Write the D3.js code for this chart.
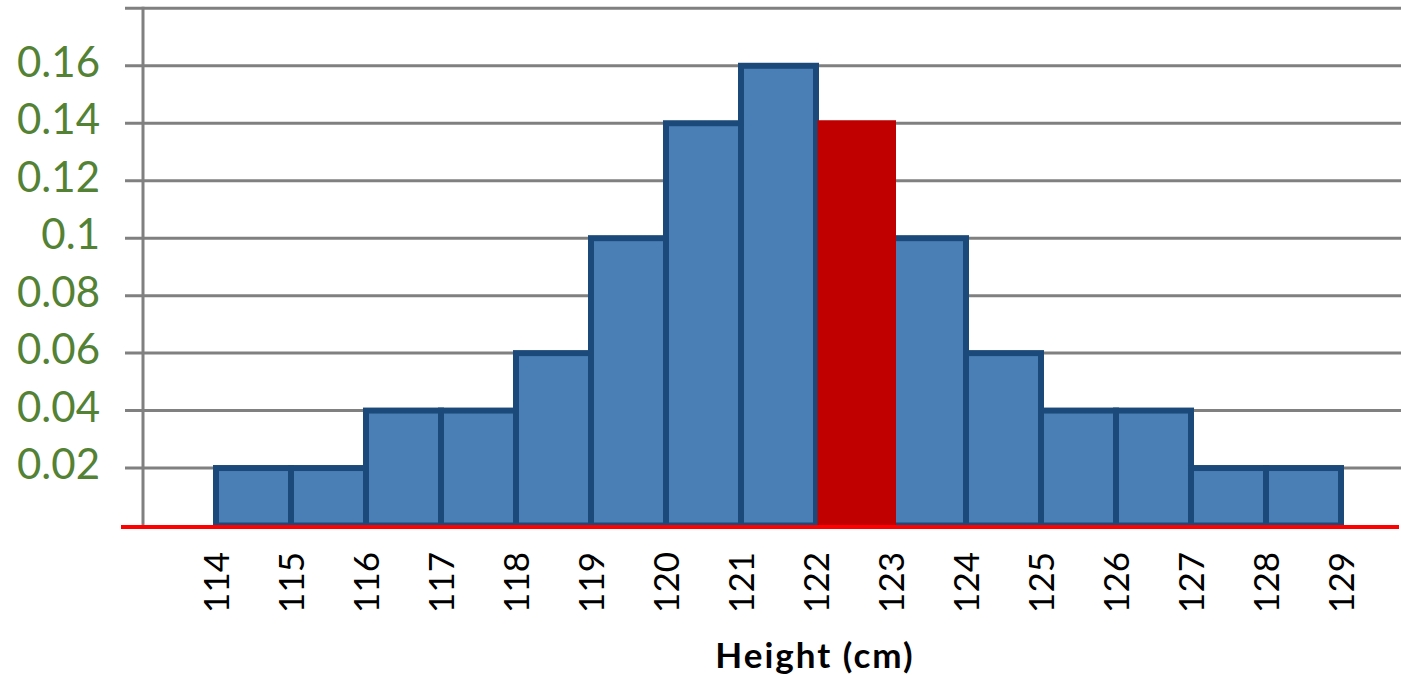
<!DOCTYPE html>
<html>
<head>
<meta charset="utf-8">
<script src="https://cdn.jsdelivr.net/npm/d3@7"></script>
<style>
  html, body { margin: 0; padding: 0; background: #fff; }
  svg { display: block; }
</style>
</head>
<body>
<svg id="chart" width="1401" height="675"></svg>
<script>
// Height distribution: relative frequency per 1 cm bin
const binStarts = [114, 115, 116, 117, 118, 119, 120, 121, 122, 123, 124, 125, 126, 127, 128];
const frequencies = [0.02, 0.02, 0.04, 0.04, 0.06, 0.10, 0.14, 0.16, 0.14, 0.10, 0.06, 0.04, 0.04, 0.02, 0.02];
const edgeLabels = ["114", "115", "116", "117", "118", "119", "120", "121", "122", "123", "124", "125", "126", "127", "128", "129"];
const gridValues = [0.02, 0.04, 0.06, 0.08, 0.10, 0.12, 0.14, 0.16, 0.18];
const yTickLabels = ["0.02", "0.04", "0.06", "0.08", "0.1", "0.12", "0.14", "0.16"];
const highlightBin = 122;
const axisTitle = "Height (cm)";

const svg = d3.select("#chart");

const x = d3.scaleLinear().domain([114, 129]).range([216, 1341]);
const y = d3.scaleLinear().domain([0, 0.18]).range([525.5, 8.3]);

const plotLeft = 143, gridLeft = 125, gridRight = 1401;

// horizontal gridlines (with small ticks left of the axis)
svg.append("g")
  .selectAll("line")
  .data(gridValues)
  .join("line")
  .attr("x1", gridLeft).attr("x2", gridRight)
  .attr("y1", d => y(d)).attr("y2", d => y(d))
  .attr("stroke", "#808080").attr("stroke-width", 3);

// vertical value axis
svg.append("line")
  .attr("x1", plotLeft).attr("x2", plotLeft)
  .attr("y1", y(0.18) - 1.5).attr("y2", y(0))
  .attr("stroke", "#808080").attr("stroke-width", 3);

// y tick labels
svg.append("g")
  .selectAll("text")
  .data(yTickLabels)
  .join("text")
  .attr("x", 100)
  .attr("y", d => y(+d) + 11)
  .attr("text-anchor", "end")
  .attr("font-family", "Lato, 'Open Sans', sans-serif")
  .attr("font-size", 42)
  .attr("fill", "#548235")
  .text(d => d);

// histogram bars
const barW = 6;
const bins = binStarts.map((s, i) => ({ start: s, value: frequencies[i] }));

svg.append("g")
  .selectAll("rect")
  .data(bins.filter(d => d.start !== highlightBin))
  .join("rect")
  .attr("x", d => x(d.start))
  .attr("y", d => y(d.value))
  .attr("width", d => x(d.start + 1) - x(d.start))
  .attr("height", d => y(0) - y(d.value))
  .attr("fill", "#4a7fb6")
  .attr("stroke", "#1b4a7a")
  .attr("stroke-width", barW);

// highlighted bin drawn on top
svg.append("g")
  .selectAll("rect")
  .data(bins.filter(d => d.start === highlightBin))
  .join("rect")
  .attr("x", d => x(d.start) + 1.5)
  .attr("y", d => y(d.value) - barW / 2)
  .attr("width", d => x(d.start + 1) - x(d.start) + 3.5)
  .attr("height", d => y(0) - y(d.value) + barW / 2)
  .attr("fill", "#c00000");

// red baseline
svg.append("line")
  .attr("x1", 121).attr("x2", 1399)
  .attr("y1", y(0) + 1.5).attr("y2", y(0) + 1.5)
  .attr("stroke", "#ff0000").attr("stroke-width", 4);

// rotated bin-edge labels
svg.append("g")
  .selectAll("text")
  .data(edgeLabels)
  .join("text")
  .attr("transform", d => `translate(${x(+d)},552) rotate(-90)`)
  .attr("x", 0)
  .attr("y", 12.6)
  .attr("text-anchor", "end")
  .attr("font-family", "Lato, 'Open Sans', sans-serif")
  .attr("font-size", 35)
  .attr("fill", "#000")
  .text(d => d);

// axis title
svg.append("text")
  .attr("x", 815)
  .attr("y", 667.7)
  .attr("text-anchor", "middle")
  .attr("font-family", "Lato, 'Open Sans', sans-serif")
  .attr("font-weight", "bold")
  .attr("font-size", 35)
  .attr("letter-spacing", 2)
  .attr("fill", "#000")
  .text(axisTitle);
</script>
</body>
</html>
